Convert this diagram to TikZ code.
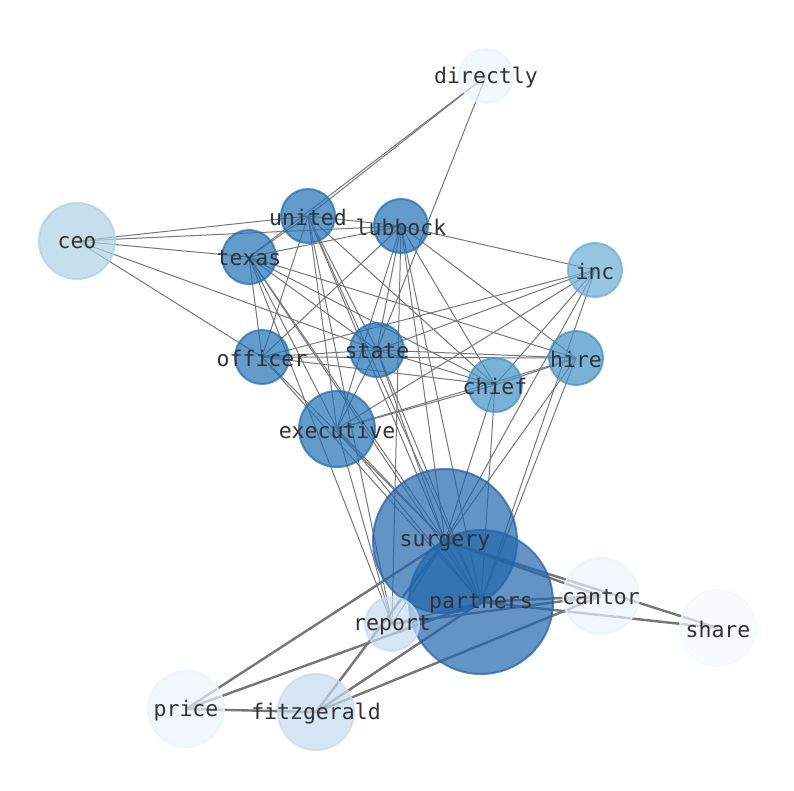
\documentclass[tikz,border=0pt]{standalone}
\usepackage{fontspec}
\setmonofont{DejaVu Sans Mono}
\usetikzlibrary{backgrounds}

% node colours (Blues, light to dark)
\definecolor{wordA}{RGB}{33,113,181}
\definecolor{wordB}{RGB}{33,102,172}
\definecolor{wordC}{RGB}{66,146,198}
\definecolor{wordD}{RGB}{107,174,214}
\definecolor{wordE}{RGB}{158,202,225}
\definecolor{wordF}{RGB}{198,219,239}
\definecolor{wordH}{RGB}{235,243,252}
\definecolor{labelgrey}{RGB}{50,50,50}
\definecolor{edgegrey}{RGB}{118,118,118}

\tikzset{
  word/.style={circle, inner sep=0pt, line width=2pt, minimum size=54pt,
    draw=#1, fill=#1, fill opacity=0.7, draw opacity=0.75},
  midword/.style={word=#1, minimum size=76pt},
  bigword/.style={word=#1, minimum size=144pt},
  wordtext/.style={font=\ttfamily\fontsize{21.5}{22}\selectfont,
    text=labelgrey, inner sep=0pt, yshift=-1.5pt},
  link/.style={draw=edgegrey, line width=1pt},
  heavylink/.style={draw=edgegrey, line width=2.4pt},
}

\begin{document}
\begin{tikzpicture}[x=1pt, y=-1pt]
  \useasboundingbox (0,0) rectangle (794,790);

  % words
  \node[word=wordH] (directly) at (486,76) {};
  \node[word=wordA] (united) at (308,216) {};
  \node[word=wordA] (lubbock) at (401,226) {};
  \node[midword=wordE!85!white] (ceo) at (77,241) {};
  \node[word=wordA] (texas) at (249,257) {};
  \node[word=wordD] (inc) at (595,270) {};
  \node[word=wordA] (officer) at (262,357) {};
  \node[word=wordA] (state) at (377,350) {};
  \node[word=wordC] (hire) at (576,358) {};
  \node[word=wordC] (chief) at (495,385) {};
  \node[midword=wordA] (executive) at (337,429) {};
  \node[bigword=wordB] (surgery) at (445,541) {};
  \node[bigword=wordB] (partners) at (481,602) {};
  \node[midword=wordH] (cantor) at (601,596) {};
  \node[midword=wordH!60!white] (share) at (718,628) {};
  \node[word=wordF] (report) at (392,624) {};
  \node[midword=wordH] (price) at (186,709) {};
  \node[midword=wordF] (fitzgerald) at (316,712) {};

  % labels on top of every circle
  \foreach \w in {directly, united, lubbock, ceo, texas, inc, officer,
      state, hire, chief, executive, surgery, partners, cantor, share,
      report, price, fitzgerald}
    \node[wordtext] (\w-text) at (\w.center) {\w};

  % co-occurrence links
  \begin{scope}[on background layer]
    \foreach \a/\b in {directly/united, directly/texas, directly/state,
        ceo/united, ceo/lubbock, ceo/texas, ceo/officer, ceo/state,
        united/texas, united/lubbock, united/officer, united/state,
        united/executive, united/chief, united/surgery, united/partners,
        united/report,
        lubbock/texas, lubbock/inc, lubbock/officer, lubbock/state,
        lubbock/executive, lubbock/chief, lubbock/hire, lubbock/surgery,
        lubbock/partners, lubbock/report,
        texas/officer, texas/state, texas/executive, texas/chief,
        texas/hire, texas/surgery, texas/partners, texas/report,
        officer/state, officer/chief, officer/hire, officer/inc,
        officer/surgery, officer/partners,
        state/hire, state/chief, state/inc, state/executive,
        state/surgery, state/partners,
        executive/chief, executive/hire, executive/inc,
        executive/surgery, executive/partners, executive/report,
        chief/hire, chief/inc, chief/surgery, chief/partners,
        hire/surgery, hire/partners, inc/surgery, inc/partners,
        surgery/partners, surgery/report, partners/report}
      \draw[link] (\a.center) -- (\b.center);
    \foreach \a/\b in {surgery/cantor, surgery/share, partners/cantor,
        partners/share, price/surgery, price/partners, price/fitzgerald,
        fitzgerald/surgery, fitzgerald/partners, fitzgerald/cantor,
        report/cantor}
      \draw[heavylink] (\a.center) -- (\b.center);
  \end{scope}
\end{tikzpicture}
\end{document}
